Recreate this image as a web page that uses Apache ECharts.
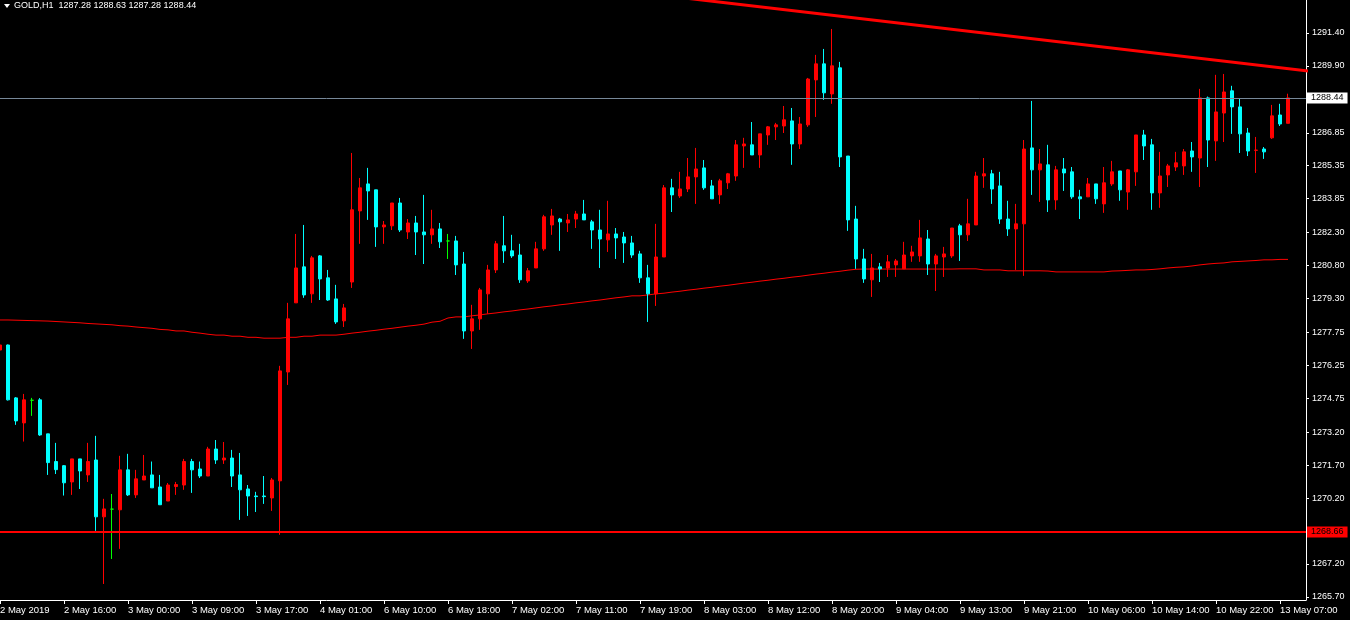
<!DOCTYPE html>
<html><head><meta charset="utf-8">
<script src="https://cdn.jsdelivr.net/npm/echarts@6/dist/echarts.min.js"></script>
<style>html,body{margin:0;padding:0;background:#000;}#c{width:1350px;height:620px;}</style>
</head><body><div id="c"></div>
<script>
const SYMBOL = 'GOLD,H1';
const OPEN = [1276.95,1277.18,1274.77,1273.63,1274.66,1274.68,1273.13,1271.87,1271.68,1270.94,
1271.99,1271.26,1271.94,1269.35,1269.70,1269.67,1271.49,1270.35,1271.03,1271.26,
1270.71,1270.07,1270.73,1270.80,1271.87,1271.53,1271.21,1272.44,1271.94,1272.03,
1271.26,1270.62,1270.30,1270.30,1270.21,1270.99,1275.95,1279.10,1280.74,1279.51,
1281.24,1280.24,1279.28,1278.28,1280.05,1283.29,1284.52,1284.25,1282.56,1282.61,
1283.65,1282.33,1282.74,1282.33,1282.20,1282.47,1281.92,1281.92,1280.87,1277.82,
1278.37,1279.51,1280.60,1281.70,1281.47,1281.28,1280.10,1280.69,1281.56,1282.65,
1282.92,1282.74,1282.92,1283.15,1282.79,1282.42,1281.97,1282.24,1282.10,1281.83,
1281.33,1280.24,1279.51,1281.19,1284.34,1283.97,1284.29,1284.84,1285.25,1284.43,
1284.02,1284.57,1284.88,1286.25,1286.30,1285.84,1286.75,1287.12,1287.16,1287.39,
1286.34,1287.21,1289.26,1289.99,1288.62,1289.81,1285.79,1282.92,1281.10,1280.15,
1280.74,1280.69,1280.83,1280.65,1281.24,1281.24,1282.01,1280.87,1281.19,1281.24,
1282.61,1282.20,1282.65,1284.88,1284.98,1284.43,1282.92,1282.47,1282.70,1286.16,
1285.16,1285.39,1283.79,1285.20,1285.07,1283.93,1283.93,1284.52,1283.61,1284.52,
1285.11,1284.15,1285.07,1286.75,1286.30,1284.11,1284.93,1285.29,1285.34,1286.02,
1285.70,1288.44,1286.48,1287.75,1288.76,1288.03,1286.84,1286.05,1286.11,1286.62,
1287.66,1287.28];
const HIGH = [1277.30,1277.20,1274.81,1274.95,1274.77,1274.76,1273.13,1272.72,1271.71,1271.99,
1271.99,1272.72,1273.04,1270.17,1270.39,1272.13,1272.22,1271.49,1272.17,1271.87,
1271.26,1270.89,1270.94,1271.99,1271.99,1271.87,1272.54,1272.85,1272.76,1272.40,
1272.26,1270.80,1270.49,1271.21,1271.12,1276.23,1279.10,1282.24,1282.65,1281.24,
1281.28,1280.60,1279.92,1279.05,1285.93,1284.79,1285.25,1284.25,1282.83,1283.65,
1283.88,1282.92,1283.06,1284.02,1283.34,1282.74,1282.24,1282.15,1281.42,1279.01,
1279.78,1280.83,1281.92,1283.06,1282.20,1281.79,1280.69,1281.88,1283.11,1283.38,
1282.97,1283.15,1283.29,1283.79,1282.88,1283.34,1283.75,1282.51,1282.33,1282.15,
1281.47,1280.83,1282.70,1284.47,1284.75,1285.07,1285.70,1286.16,1285.61,1284.70,
1284.75,1285.02,1286.52,1286.62,1287.34,1286.80,1287.16,1287.30,1288.07,1287.98,
1287.57,1289.35,1290.40,1290.67,1291.58,1290.08,1285.79,1283.52,1281.56,1281.33,
1280.92,1281.28,1281.10,1281.88,1281.70,1282.88,1282.42,1281.33,1281.65,1282.51,
1282.70,1283.84,1285.07,1285.70,1285.16,1285.07,1283.75,1283.61,1286.52,1288.30,
1286.11,1286.30,1285.34,1285.70,1285.29,1284.25,1284.79,1284.52,1285.29,1285.57,
1285.11,1285.20,1286.75,1286.98,1286.57,1285.98,1285.43,1285.98,1286.11,1286.43,
1288.85,1288.50,1289.49,1289.53,1288.99,1288.39,1287.07,1286.66,1286.20,1288.12,
1288.17,1288.63];
const LOW = [1276.80,1274.65,1273.54,1272.78,1273.95,1273.04,1271.26,1271.30,1270.32,1270.35,
1270.62,1270.94,1268.71,1266.29,1267.43,1267.89,1270.30,1270.21,1271.03,1270.67,
1269.90,1270.07,1270.35,1270.58,1270.44,1271.12,1271.21,1271.76,1271.76,1270.71,
1269.21,1269.39,1269.57,1269.94,1269.62,1268.53,1275.36,1279.10,1279.33,1279.10,
1279.23,1279.19,1278.14,1278.00,1279.78,1281.79,1282.88,1281.65,1281.79,1282.42,
1282.33,1282.01,1281.28,1280.87,1281.79,1281.60,1281.10,1280.37,1277.46,1277.00,
1277.87,1278.60,1280.46,1280.92,1281.15,1280.01,1280.01,1280.69,1281.47,1282.20,
1281.47,1282.33,1282.51,1282.88,1281.56,1280.69,1281.42,1281.10,1280.92,1281.15,
1280.01,1278.23,1278.96,1281.19,1283.24,1283.88,1284.15,1283.61,1284.25,1283.84,
1283.61,1284.29,1284.66,1285.25,1285.84,1285.25,1286.30,1286.52,1286.84,1285.39,
1286.11,1287.12,1287.57,1288.35,1288.17,1285.29,1282.38,1280.65,1280.01,1279.37,
1280.05,1280.28,1280.28,1280.65,1280.97,1280.97,1280.37,1279.64,1280.28,1281.15,
1281.01,1281.92,1282.65,1284.34,1283.61,1282.70,1282.15,1280.60,1280.33,1284.02,
1283.70,1283.24,1283.34,1284.20,1283.84,1282.92,1283.93,1283.61,1283.20,1284.43,
1283.75,1283.34,1284.43,1285.61,1283.34,1283.43,1284.38,1285.11,1284.93,1285.07,
1284.38,1285.29,1285.57,1286.43,1286.80,1285.93,1285.79,1285.02,1285.66,1286.57,
1287.16,1287.28];
const CLOSE = [1277.18,1274.68,1273.72,1274.68,1274.66,1273.08,1271.82,1271.50,1270.90,1271.99,
1271.44,1271.87,1269.35,1269.71,1269.70,1271.49,1270.35,1271.08,1271.21,1270.67,
1269.90,1270.80,1270.82,1271.87,1271.49,1271.21,1272.44,1271.94,1272.03,1271.21,
1270.58,1270.30,1270.27,1270.27,1271.03,1276.00,1278.37,1280.69,1279.46,1281.15,
1280.19,1279.23,1278.23,1278.87,1283.34,1284.34,1284.20,1282.56,1282.65,1283.65,
1282.42,1282.74,1282.33,1282.20,1282.47,1281.88,1281.92,1280.83,1277.82,1278.37,
1279.69,1280.60,1281.79,1281.47,1281.24,1280.15,1280.56,1281.56,1283.02,1283.06,
1282.79,1282.88,1283.15,1282.88,1282.42,1282.01,1282.24,1282.06,1281.83,1281.28,
1280.24,1279.51,1281.19,1284.34,1284.02,1284.29,1284.84,1285.20,1284.34,1283.84,
1284.66,1284.98,1286.30,1286.34,1285.84,1286.80,1287.12,1287.21,1287.44,1286.34,
1287.25,1289.30,1289.99,1288.67,1289.90,1285.75,1282.88,1281.10,1280.19,1280.69,
1280.65,1280.97,1281.01,1281.28,1281.42,1282.06,1280.87,1281.24,1281.33,1282.51,
1282.20,1282.70,1284.88,1284.98,1284.29,1282.92,1282.47,1282.70,1286.11,1285.16,
1285.43,1283.79,1285.16,1285.02,1283.93,1283.84,1284.52,1283.84,1284.57,1285.07,
1284.25,1285.16,1286.75,1286.25,1284.11,1284.88,1285.34,1285.48,1285.98,1285.75,
1288.44,1286.52,1287.80,1288.71,1288.03,1286.80,1286.02,1286.06,1285.98,1287.62,
1287.25,1288.44];
const MA = [1278.32,1278.32,1278.31,1278.30,1278.29,1278.28,1278.27,1278.25,1278.23,1278.21,
1278.19,1278.16,1278.14,1278.12,1278.10,1278.06,1278.04,1278.00,1277.97,1277.94,
1277.89,1277.87,1277.82,1277.82,1277.76,1277.72,1277.67,1277.63,1277.63,1277.58,
1277.58,1277.53,1277.53,1277.49,1277.49,1277.49,1277.53,1277.53,1277.58,1277.58,
1277.63,1277.63,1277.63,1277.67,1277.72,1277.76,1277.81,1277.85,1277.90,1277.94,
1277.99,1278.04,1278.08,1278.13,1278.22,1278.26,1278.41,1278.46,1278.46,1278.51,
1278.55,1278.60,1278.64,1278.69,1278.73,1278.78,1278.82,1278.87,1278.92,1278.96,
1279.01,1279.05,1279.10,1279.14,1279.19,1279.23,1279.28,1279.33,1279.37,1279.42,
1279.42,1279.46,1279.51,1279.54,1279.59,1279.63,1279.68,1279.72,1279.77,1279.81,
1279.86,1279.90,1279.95,1280.00,1280.04,1280.09,1280.13,1280.18,1280.22,1280.27,
1280.31,1280.36,1280.41,1280.45,1280.50,1280.54,1280.59,1280.63,1280.64,1280.64,
1280.64,1280.64,1280.64,1280.64,1280.64,1280.64,1280.64,1280.64,1280.64,1280.64,
1280.65,1280.65,1280.65,1280.60,1280.60,1280.60,1280.56,1280.56,1280.56,1280.56,
1280.56,1280.55,1280.51,1280.51,1280.51,1280.51,1280.51,1280.51,1280.51,1280.55,
1280.56,1280.58,1280.60,1280.60,1280.62,1280.65,1280.69,1280.72,1280.74,1280.78,
1280.83,1280.87,1280.90,1280.92,1280.97,1280.99,1281.01,1281.03,1281.06,1281.06,
1281.08,1281.08];
const X_LABELS = ['2 May 2019','2 May 16:00','3 May 00:00','3 May 09:00','3 May 17:00','4 May 01:00',
'6 May 10:00','6 May 18:00','7 May 02:00','7 May 11:00','7 May 19:00','8 May 03:00','8 May 12:00',
'8 May 20:00','9 May 04:00','9 May 13:00','9 May 21:00','10 May 06:00','10 May 14:00','10 May 22:00',
'13 May 07:00'];
const LABEL_EVERY = 8;
const Y_LABELS = [1291.40,1289.90,1286.85,1285.35,1283.85,1282.30,1280.80,1279.30,1277.75,
1276.25,1274.75,1273.20,1271.70,1270.20,1267.20,1265.70];
const SUPPORT = 1268.66;
const TREND = [[80, 1293.23], [164, 1289.64]];
const Y_MIN = 1265.56, Y_MAX = 1292.90;
const X_MIN = 0, X_MAX = 163.25;

const last = OPEN.length - 1;
const BID = CLOSE[last];
const candles = OPEN.map((o, i) => [i, o, CLOSE[i], LOW[i], HIGH[i]]);
const maData = MA.map((v, i) => [i, v]);
const xTicks = X_LABELS.map((_, k) => k * LABEL_EVERY);
const FONT = 'Liberation Sans';

const chart = echarts.init(document.getElementById('c'), null, {renderer: 'canvas'});
chart.setOption({
  backgroundColor: '#000000',
  animation: false,
  title: {
    text: SYMBOL + '  ' + [OPEN[last], HIGH[last], LOW[last], CLOSE[last]].map(v => v.toFixed(2)).join(' '),
    left: 14, top: 0, padding: [1, 0, 0, 0],
    textStyle: {color: '#ffffff', fontSize: 9, fontWeight: 'normal', fontFamily: FONT}
  },
  graphic: [{type: 'polygon', shape: {points: [[4, 4], [10, 4], [7, 8]]}, style: {fill: '#ffffff'}}],
  grid: {left: 0, right: 44, top: 0, bottom: 20, containLabel: false, outerBoundsMode: 'none'},
  xAxis: {
    type: 'value', min: X_MIN, max: X_MAX, scale: true,
    axisLine: {show: true, onZero: false, lineStyle: {color: '#ffffff', width: 1}},
    axisTick: {show: true, length: 4, customValues: xTicks, lineStyle: {color: '#ffffff'}},
    axisLabel: {show: true, customValues: xTicks,
      formatter: (v) => X_LABELS[Math.round(v / LABEL_EVERY)] || '',
      color: '#ffffff', fontSize: 9.5, fontFamily: FONT, align: 'left', margin: 5},
    splitLine: {show: false}
  },
  yAxis: {
    type: 'value', position: 'right', min: Y_MIN, max: Y_MAX, scale: true,
    axisLine: {show: true, onZero: false, lineStyle: {color: '#ffffff', width: 1}},
    axisTick: {show: true, length: 3, customValues: Y_LABELS, lineStyle: {color: '#ffffff'}},
    axisLabel: {show: true, customValues: Y_LABELS, formatter: (v) => v.toFixed(2),
      color: '#ffffff', fontSize: 9, fontFamily: FONT, margin: 6},
    splitLine: {show: false}
  },
  series: [{
    name: 'MA', type: 'line', data: maData, symbol: 'none', z: 2,
    lineStyle: {color: '#ff0000', width: 1}, silent: true
  }, {
    name: 'GOLD', type: 'candlestick', data: candles, barWidth: 4, z: 3, clip: false,
    itemStyle: {color: '#ff0000', color0: '#00ffff', borderColor: '#ff0000', borderColor0: '#00ffff',
      borderColorDoji: '#00ff00', borderWidth: 1},
    markLine: {
      symbol: 'none', silent: true, animation: false, z: 4,
      data: [
        {yAxis: BID, lineStyle: {color: '#778899', width: 1, type: 'solid'},
          label: {show: true, position: 'end', distance: 1, formatter: () => BID.toFixed(2),
            backgroundColor: '#ffffff', color: '#000000', padding: [1, 4, 1, 4], fontSize: 9, fontFamily: FONT}},
        {yAxis: SUPPORT, lineStyle: {color: '#ff0000', width: 2, type: 'solid'},
          label: {show: true, position: 'end', distance: 1, formatter: () => SUPPORT.toFixed(2),
            backgroundColor: '#ff0000', color: '#000000', padding: [1, 4, 1, 4], fontSize: 9, fontFamily: FONT}}
      ]
    }
  }, {
    name: 'Trend', type: 'line', data: TREND, symbol: 'none', z: 5, clip: true,
    lineStyle: {color: '#ff0000', width: 3}, silent: true
  }]
});
</script></body></html>
